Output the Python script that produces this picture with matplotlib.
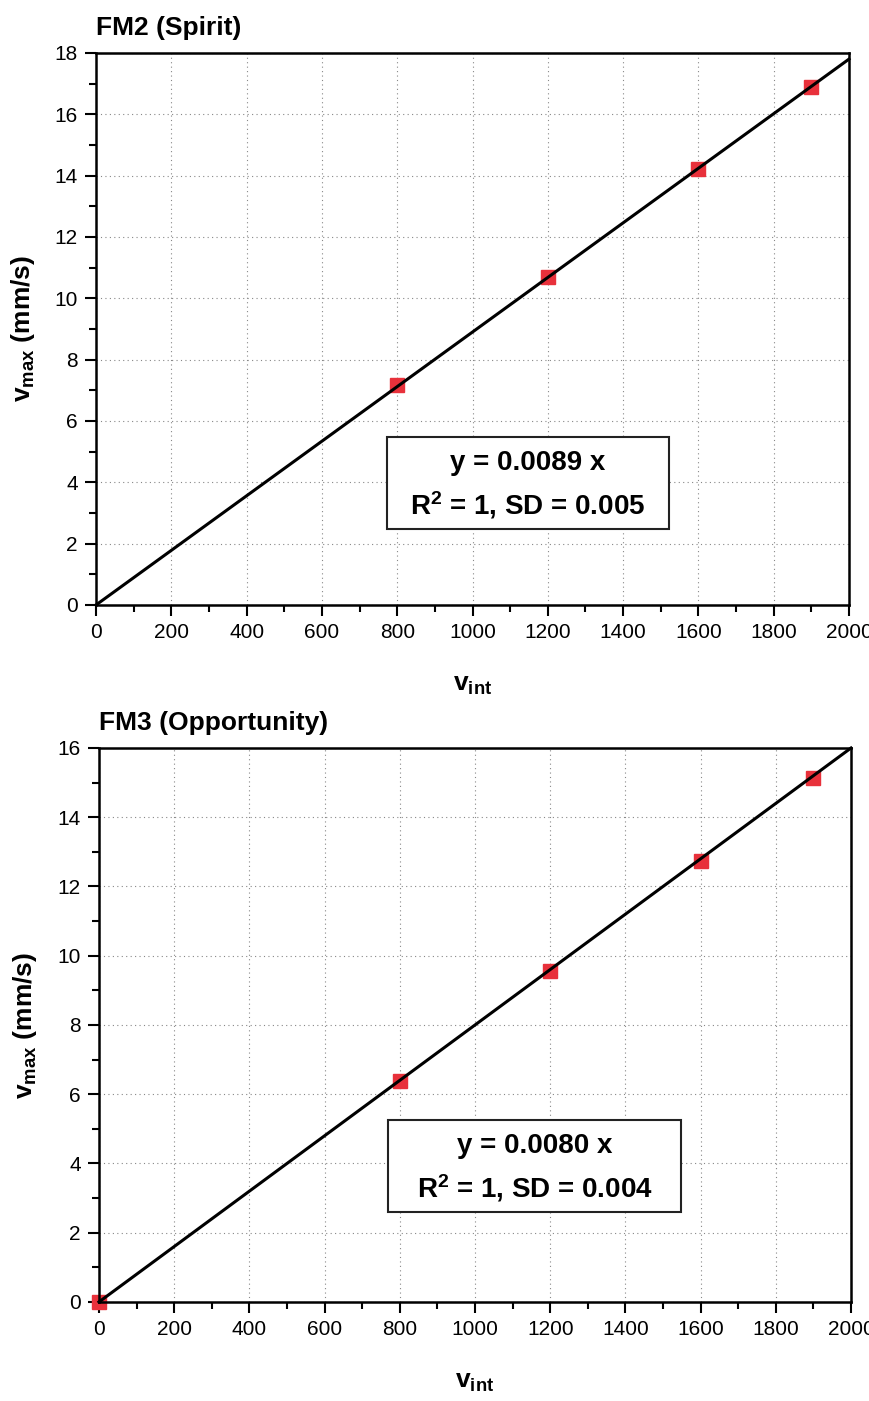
import matplotlib
matplotlib.use("Agg")
import matplotlib.pyplot as plt
import numpy as np
from matplotlib.patches import Rectangle
from matplotlib.ticker import MultipleLocator

plt.rcParams['font.family'] = ['Liberation Sans', 'DejaVu Sans']
plt.rcParams['mathtext.fontset'] = 'custom'
plt.rcParams['mathtext.rm'] = 'Liberation Sans'
plt.rcParams['mathtext.bf'] = 'Liberation Sans:bold'
plt.rcParams['mathtext.it'] = 'Liberation Sans:italic'
plt.rcParams['mathtext.default'] = 'bf'

# Spirit (FM2) calibration points
fm2_vint = [800, 1200, 1600, 1900]
fm2_vmax = [7.16, 10.68, 14.23, 16.9]
fm2_slope = 0.0089

# Opportunity (FM3) calibration points
fm3_vint = [0, 800, 1200, 1600, 1900]
fm3_vmax = [0.0, 6.37, 9.55, 12.75, 15.12]
fm3_slope = 0.0080

fig = plt.figure(figsize=(8.69, 14.01), dpi=100)

panels = [
    dict(rect=[0.1105, 0.5682, 0.8665, 0.394], x=fm2_vint, y=fm2_vmax, slope=fm2_slope,
         ymax=18, title="FM2 (Spirit)", eq="y = 0.0089 x", stats="R$^{2}$ = 1, SD = 0.005",
         box=(0.386, 0.138, 0.375, 0.166)),
    dict(rect=[0.1139, 0.0707, 0.8654, 0.3954], x=fm3_vint, y=fm3_vmax, slope=fm3_slope,
         ymax=16, title="FM3 (Opportunity)", eq="y = 0.0080 x", stats="R$^{2}$ = 1, SD = 0.004",
         box=(0.384, 0.162, 0.390, 0.166)),
]

for p in panels:
    ax = fig.add_axes(p["rect"])
    ax.set_xlim(0, 2000)
    ax.set_ylim(0, p["ymax"])
    xs = np.array([0, 2000])
    ax.plot(xs, p["slope"] * xs, color="black", lw=2.2, zorder=3, clip_on=False)
    ax.plot(p["x"], p["y"], linestyle="none", marker="s", ms=10, color="#e8313b",
            mec="#e8313b", zorder=2, clip_on=False)

    ax.xaxis.set_major_locator(MultipleLocator(200))
    ax.xaxis.set_minor_locator(MultipleLocator(100))
    ax.yaxis.set_major_locator(MultipleLocator(2))
    ax.yaxis.set_minor_locator(MultipleLocator(1))
    ax.tick_params(which="major", direction="out", length=8, width=1.5, labelsize=15, pad=5)
    ax.tick_params(which="minor", direction="out", length=5, width=1.5)
    for s in ax.spines.values():
        s.set_linewidth(1.8)
    ax.grid(True, which="major", linestyle=(0, (1, 3)), color="#888888", lw=0.8)

    ax.set_xlabel("v$_{int}$", fontsize=19, fontweight="bold", labelpad=22)
    ax.set_ylabel("v$_{max}$ (mm/s)", fontsize=19, fontweight="bold", labelpad=13)
    ax.set_title(p["title"], loc="left", fontsize=19, fontweight="bold", pad=13)

    bx, by, bw, bh = p["box"]
    ax.add_patch(Rectangle((bx, by), bw, bh, transform=ax.transAxes, facecolor="white",
                           edgecolor="#222222", lw=1.5, zorder=4))
    cx = bx + bw / 2
    ax.text(cx, by + bh * 0.72, p["eq"], transform=ax.transAxes, ha="center", va="center",
            fontsize=20, fontweight="bold", zorder=5)
    ax.text(cx, by + bh * 0.26, p["stats"], transform=ax.transAxes, ha="center", va="center",
            fontsize=20, fontweight="bold", zorder=5)

fig.savefig("out.png", dpi=100)
